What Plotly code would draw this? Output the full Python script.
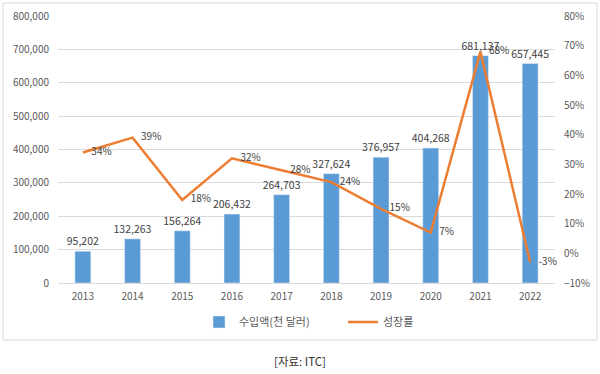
import plotly.graph_objects as go

years = ["2013", "2014", "2015", "2016", "2017", "2018", "2019", "2020", "2021", "2022"]
imports = [95202, 132263, 156264, 206432, 264703, 327624, 376957, 404268, 681137, 657445]
growth = [34, 39, 18, 32, 28, 24, 15, 7, 68, -3]

bar_name = "수입액(천 달러)"
line_name = "성장률"
source = "[자료: ITC]"

FONT = "Noto Sans CJK KR, Noto Sans, sans-serif"
TXT = "#595959"

fig = go.Figure()
fig.add_trace(go.Bar(
    x=years, y=imports, name=bar_name,
    marker=dict(color="#5B9BD5"),
    texttemplate="%{y:,}", textposition="outside", constraintext="none",
    textfont=dict(size=10.5, color="#404040", family=FONT),
    cliponaxis=False,
))
fig.add_trace(go.Scatter(
    x=years, y=growth, name=line_name, yaxis="y2",
    mode="lines+markers+text",
    line=dict(color="#ED7D31", width=2.5),
    marker=dict(size=12, color="rgba(0,0,0,0)"),
    text=[f"{g}%" for g in growth],
    textposition="middle right",
    textfont=dict(size=10, color="#404040", family=FONT),
    cliponaxis=False,
))

W, H = 600, 374
SL, SR, ST, SB = 58, 555, 16, 283  # plot area in px
L, T, R, B = SL, ST, W - SR, H - SB
pw, ph = SR - SL, SB - ST

def px(x):
    return (x - SL) / pw

def py(y):
    return (SB - y) / ph

fig.update_layout(
    width=W, height=H,
    margin=dict(l=L, r=R, t=T, b=B, autoexpand=False),
    paper_bgcolor="white", plot_bgcolor="white",
    font=dict(family=FONT, size=10, color=TXT),
    bargap=0.68,
    showlegend=True,
    legend=dict(orientation="h", x=px(199), xanchor="left", y=py(322), yanchor="middle",
                entrywidth=99, font=dict(size=11, color=TXT)),
    xaxis=dict(range=[-0.5, len(years) - 0.5], showgrid=False, showline=True,
               linecolor="#d9d9d9", ticks="", automargin=False,
               tickfont=dict(size=10, color=TXT), ticklabelstandoff=4),
    yaxis=dict(range=[0, 800000], dtick=100000, tickformat=",", showgrid=True,
               gridcolor="#d9d9d9", zeroline=False, tickfont=dict(size=10, color=TXT),
               ticks="", automargin=False, ticklabelstandoff=8),
    yaxis2=dict(range=[-10, 80], dtick=10, ticksuffix="%", overlaying="y", side="right",
                showgrid=False, zeroline=False, tickfont=dict(size=10, color=TXT),
                automargin=False, ticklabelstandoff=8),
    shapes=[dict(type="rect", xref="paper", yref="paper",
                 x0=px(3), x1=px(597), y0=py(340), y1=py(3),
                 line=dict(color="#d9d9d9", width=1), fillcolor="rgba(0,0,0,0)", layer="below")],
    annotations=[dict(text=source, xref="paper", yref="paper", x=px(300), y=py(361),
                      xanchor="center", yanchor="middle", showarrow=False,
                      font=dict(size=11.5, color="#333333", family=FONT))],
)

fig.write_html("out.html", config={"displayModeBar": False},
               post_script="document.body.style.margin='0';document.body.style.overflow='hidden';")
